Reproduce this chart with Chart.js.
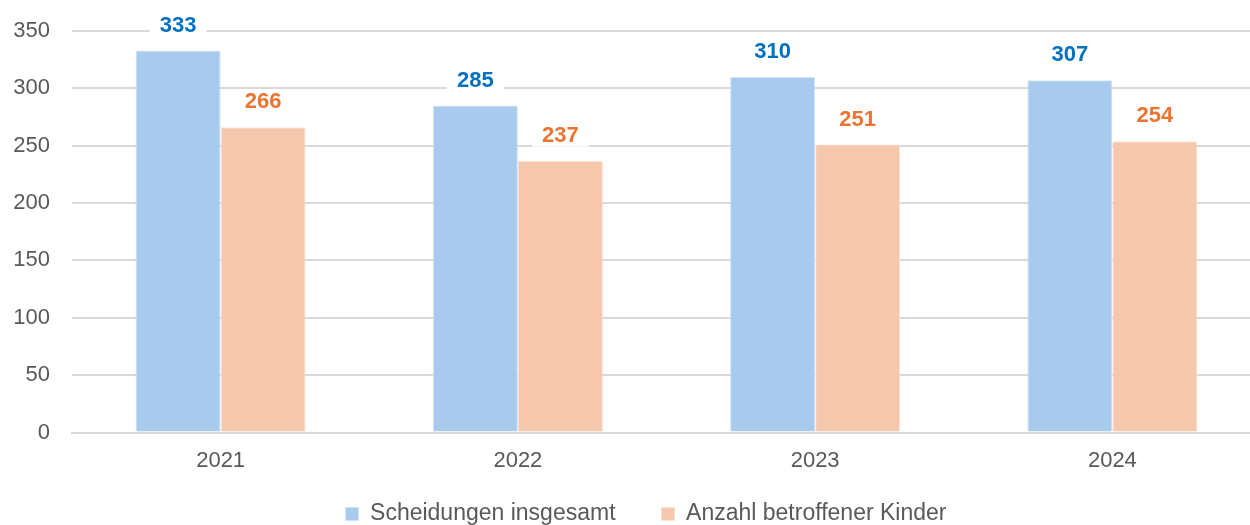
<!DOCTYPE html>
<html>
<head>
<meta charset="utf-8">
<script src="https://cdn.jsdelivr.net/npm/chart.js@4.4.1/dist/chart.umd.min.js"></script>
<style>
html,body{margin:0;padding:0;background:#fff;overflow:hidden;}
#wrap{width:1261px;height:525px;position:relative;}
</style>
</head>
<body>
<div id="wrap"><canvas id="c" width="1261" height="525"></canvas></div>
<script>
const categories = ['2021', '2022', '2023', '2024'];
const scheidungen = [333, 285, 310, 307];
const kinder = [266, 237, 251, 254];
const seriesNames = ['Scheidungen insgesamt', 'Anzahl betroffener Kinder'];
const yTicks = [0, 50, 100, 150, 200, 250, 300, 350];

const FONT = '"Liberation Sans", Arial, sans-serif';
const LEGEND_FONT = 23;
const LEGEND_PAD = 46;
const PLOT_TOP = 31;

const labelPlugin = {
  id: 'barLabels',
  afterDatasetsDraw(chart) {
    const ctx = chart.ctx;
    ctx.save();
    ctx.font = 'bold 22px ' + FONT;
    ctx.textAlign = 'center';
    ctx.textBaseline = 'middle';
    chart.data.datasets.forEach((ds, i) => {
      const meta = chart.getDatasetMeta(i);
      meta.data.forEach((bar, j) => {
        const txt = String(ds.data[j]);
        const cy = bar.y - 26;
        const w = ctx.measureText(txt).width + 20;
        ctx.fillStyle = '#ffffff';
        ctx.fillRect(bar.x - w / 2, cy - 12, w, 24);
        ctx.fillStyle = ds.labelColor;
        ctx.fillText(txt, bar.x, cy + 1);
      });
    });
    ctx.restore();
  }
};

const layoutTuner = {
  id: 'layoutTuner',
  afterLayout(chart) {
    // plot area top
    const y = chart.scales.y;
    const ca = chart.chartArea;
    ca.top = PLOT_TOP; ca.height = ca.bottom - ca.top;
    y.top = PLOT_TOP; y.height = y.bottom - y.top;
    y.configure();
    // legend position
    const lg = chart.legend;
    if (!lg) return;
    const dy = (514 - LEGEND_PAD - LEGEND_FONT / 2) - lg.top;
    lg.top += dy; lg.bottom = 525; lg.height = lg.bottom - lg.top;
    const dx = 15.5;
    lg.left += dx; lg.right += dx;
  }
};

new Chart(document.getElementById('c'), {
  type: 'bar',
  data: {
    labels: categories,
    datasets: [
      { label: seriesNames[0], data: scheidungen, backgroundColor: '#A8CAEC', borderColor: '#D2E4F6', borderWidth: 1, labelColor: '#0070C0' },
      { label: seriesNames[1], data: kinder, backgroundColor: '#F5C8AD', borderColor: '#FAE2D4', borderWidth: 1, labelColor: '#EC7432' }
    ]
  },
  options: {
    responsive: false,
    animation: false,
    devicePixelRatio: 1,
    layout: { padding: { left: 0, right: 0, top: 26, bottom: 0 } },
    datasets: { bar: { categoryPercentage: 0.572, barPercentage: 1.0 } },
    plugins: {
      legend: {
        position: 'bottom',
        maxHeight: 50.5,
        labels: {
          color: '#595959',
          font: { family: FONT, size: LEGEND_FONT },
          boxWidth: 13,
          boxHeight: 13,
          padding: LEGEND_PAD
        }
      },
      tooltip: { enabled: false }
    },
    scales: {
      x: {
        grid: { display: false, drawTicks: false },
        border: { display: true, color: '#D9D9D9', width: 2 },
        ticks: { color: '#595959', font: { family: FONT, size: 22 }, padding: 15 },
        afterFit(s) { s.height = 42; }
      },
      y: {
        min: 0, max: 350,
        afterBuildTicks(s) { s.ticks = yTicks.map(v => ({ value: v })); },
        grid: { color: '#D9D9D9', lineWidth: 2, drawTicks: false },
        border: { display: false },
        ticks: { color: '#595959', font: { family: FONT, size: 22 }, padding: 22 },
        afterFit(s) { s.width = 72; }
      }
    }
  },
  plugins: [labelPlugin, layoutTuner]
});
</script>
</body>
</html>
